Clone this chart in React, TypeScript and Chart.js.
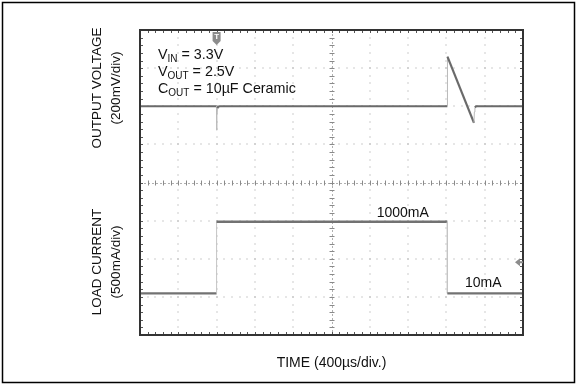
import React, { useEffect, useRef } from "react";
import { Chart, registerables } from "chart.js";

Chart.register(...registerables);

// ---- data (time in µs, voltage in V, current in mA) ----
const voltageTime = [0, 800, 801, 803, 808, 818, 832, 3210, 3211, 3488, 3492, 3498, 3510, 4000];
const voltageValues = [2.5, 2.5, 2.374, 2.46, 2.49, 2.498, 2.5, 2.5, 2.76, 2.413, 2.47, 2.494, 2.5, 2.5];

const currentTime = [0, 800, 800, 3210, 3210, 4000];
const currentValues = [10, 10, 1000, 1000, 10, 10];

const timeDivs = 10;
const timePerDiv = 400;
const vertDivs = 8;

const triggerTime = 800;
const channelMarker = 440; // mA

const annotationLines = [
  ["V", "IN", " = 3.3V"],
  ["V", "OUT", " = 2.5V"],
  ["C", "OUT", " = 10µF Ceramic"],
];
const levelLabels = ["1000mA", "10mA"];
const yLabelsTop = ["OUTPUT VOLTAGE", "(200mV/div)"];
const yLabelsBottom = ["LOAD CURRENT", "(500mA/div)"];
const xLabel = "TIME (400µs/div.)";

const FONT = "'Liberation Sans', Arial, sans-serif";

const scopePlugin = {
  id: "scope",
  beforeDatasetsDraw(chart: any) {
    const { ctx, chartArea: a, scales } = chart;
    const xs = scales.x;
    const W = a.right - a.left;
    const H = a.bottom - a.top;
    const dx = W / timeDivs;
    const dy = H / vertDivs;
    ctx.save();
    // dotted grid
    ctx.fillStyle = "#9a9a9a";
    for (let i = 1; i < timeDivs; i++) {
      const px = xs.getPixelForValue(i * timePerDiv);
      if (i === timeDivs / 2) continue;
      for (let k = 1; k < vertDivs * 5; k++) {
        const py = a.top + (k * dy) / 5;
        ctx.fillRect(Math.round(px) - 0.5, Math.round(py) - 0.5, 1, 1);
      }
    }
    for (let j = 1; j < vertDivs; j++) {
      const py = a.top + j * dy;
      if (j === vertDivs / 2) continue;
      for (let k = 1; k < timeDivs * 5; k++) {
        const px = a.left + (k * dx) / 5;
        ctx.fillRect(Math.round(px) - 0.5, Math.round(py) - 0.5, 1, 1);
      }
    }
    // center lines with ticks
    const cx = xs.getPixelForValue((timeDivs / 2) * timePerDiv);
    const cy = a.top + (vertDivs / 2) * dy;
    ctx.strokeStyle = "#b0b0b0";
    ctx.lineWidth = 1;
    ctx.setLineDash([2, 2]);
    ctx.beginPath();
    ctx.moveTo(Math.round(cx) + 0.5, a.top);
    ctx.lineTo(Math.round(cx) + 0.5, a.bottom);
    ctx.moveTo(a.left, Math.round(cy) + 0.5);
    ctx.lineTo(a.right, Math.round(cy) + 0.5);
    ctx.stroke();
    ctx.setLineDash([]);
    ctx.strokeStyle = "#8a8a8a";
    ctx.beginPath();
    for (let k = 1; k < vertDivs * 5; k++) {
      const py = Math.round(a.top + (k * dy) / 5) + 0.5;
      ctx.moveTo(cx - 2, py);
      ctx.lineTo(cx + 3, py);
    }
    for (let k = 1; k < timeDivs * 5; k++) {
      const px = Math.round(a.left + (k * dx) / 5) + 0.5;
      ctx.moveTo(px, cy - 2);
      ctx.lineTo(px, cy + 3);
    }
    ctx.stroke();
    // border ticks
    ctx.strokeStyle = "#555";
    ctx.beginPath();
    for (let k = 1; k < timeDivs * 5; k++) {
      const px = Math.round(a.left + (k * dx) / 5) + 0.5;
      ctx.moveTo(px, a.top);
      ctx.lineTo(px, a.top + 3);
      ctx.moveTo(px, a.bottom);
      ctx.lineTo(px, a.bottom - 3);
    }
    for (let k = 1; k < vertDivs * 5; k++) {
      const py = Math.round(a.top + (k * dy) / 5) + 0.5;
      ctx.moveTo(a.left, py);
      ctx.lineTo(a.left + 3, py);
      ctx.moveTo(a.right, py);
      ctx.lineTo(a.right - 3, py);
    }
    ctx.stroke();
    ctx.restore();
  },
  afterDatasetsDraw(chart: any) {
    const { ctx, chartArea: a, scales } = chart;
    ctx.save();
    // frame
    ctx.strokeStyle = "#333";
    ctx.lineWidth = 2;
    ctx.strokeRect(a.left, a.top, a.right - a.left, a.bottom - a.top);
    // outer border
    ctx.strokeStyle = "#000";
    ctx.lineWidth = 1.5;
    ctx.strokeRect(2.5, 2.5, chart.width - 5, chart.height - 5);

    // trigger marker
    const tx = scales.x.getPixelForValue(triggerTime);
    ctx.fillStyle = "#8c8c8c";
    ctx.beginPath();
    ctx.moveTo(tx - 4, a.top + 2);
    ctx.lineTo(tx + 4, a.top + 2);
    ctx.lineTo(tx + 4, a.top + 11);
    ctx.lineTo(tx, a.top + 15);
    ctx.lineTo(tx - 4, a.top + 11);
    ctx.closePath();
    ctx.fill();
    ctx.fillStyle = "#fff";
    ctx.font = `bold 8px ${FONT}`;
    ctx.textAlign = "center";
    ctx.textBaseline = "middle";
    ctx.fillText("T", tx, a.top + 7);

    // channel marker (right)
    const my = scales.yI.getPixelForValue(channelMarker);
    ctx.fillStyle = "#8c8c8c";
    ctx.beginPath();
    ctx.moveTo(a.right - 8, my);
    ctx.lineTo(a.right - 3, my - 4);
    ctx.lineTo(a.right - 3, my + 4);
    ctx.closePath();
    ctx.fill();
    ctx.fillRect(a.right - 3, my - 1, 3, 2);

    // annotations
    ctx.fillStyle = "#111";
    ctx.textAlign = "left";
    ctx.textBaseline = "alphabetic";
    const ax = a.left + 18;
    annotationLines.forEach((parts, i) => {
      const by = a.top + 29.3 + i * 17;
      let x = ax;
      ctx.font = `14.3px ${FONT}`;
      ctx.fillText(parts[0], x, by);
      x += ctx.measureText(parts[0]).width;
      ctx.font = `10px ${FONT}`;
      ctx.fillText(parts[1], x, by + 3);
      x += ctx.measureText(parts[1]).width;
      ctx.font = `14.3px ${FONT}`;
      ctx.fillText(parts[2], x, by);
    });
    ctx.font = `14px ${FONT}`;
    ctx.fillText(levelLabels[0], 376.7, 217.3);
    ctx.fillText(levelLabels[1], 465, 287.3);

    // x label
    ctx.textAlign = "center";
    ctx.font = `14px ${FONT}`;
    ctx.fillText(xLabel, (a.left + a.right) / 2, 366.5);

    // rotated y labels
    const drawRot = (text: string, x: number, y: number) => {
      ctx.save();
      ctx.translate(x, y);
      ctx.rotate(-Math.PI / 2);
      ctx.textAlign = "center";
      ctx.textBaseline = "middle";
      ctx.fillText(text, 0, 0);
      ctx.restore();
    };
    ctx.font = `13.5px ${FONT}`;
    drawRot(yLabelsTop[0], 97, 88);
    drawRot(yLabelsTop[1], 116, 88);
    drawRot(yLabelsBottom[0], 97, 262);
    drawRot(yLabelsBottom[1], 116, 262);
    ctx.restore();
  },
};

const segStyle = (light: string, dark: string, lw: number) => ({
  borderColor: (c: any) => {
    const ddx = Math.abs(c.p1.x - c.p0.x);
    const ddy = Math.abs(c.p1.y - c.p0.y);
    return ddx < 1 && ddy > 3 ? light : dark;
  },
  borderWidth: (c: any) => {
    const ddx = Math.abs(c.p1.x - c.p0.x);
    const ddy = Math.abs(c.p1.y - c.p0.y);
    return ddx < 1 && ddy > 3 ? 1 : lw;
  },
});

export default function App() {
  const ref = useRef<HTMLCanvasElement | null>(null);
  useEffect(() => {
    document.body.style.margin = "0";
    const canvas = ref.current;
    if (!canvas) return;
    const chart = new Chart(canvas, {
      type: "line",
      data: {
        datasets: [
          {
            label: "Output voltage",
            data: voltageTime.map((t, i) => ({ x: t, y: voltageValues[i] })),
            yAxisID: "yV",
            borderColor: "#6a6a6a",
            borderWidth: 2.2,
            pointRadius: 0,
            tension: 0,
            segment: segStyle("#b8b8b8", "#6a6a6a", 2.2),
          },
          {
            label: "Load current",
            data: currentTime.map((t, i) => ({ x: t, y: currentValues[i] })),
            yAxisID: "yI",
            borderColor: "#727272",
            borderWidth: 2.4,
            pointRadius: 0,
            tension: 0,
            segment: segStyle("#c4c4c4", "#727272", 2.4),
          },
        ],
      },
      options: {
        animation: false,
        responsive: false,
        devicePixelRatio: 1,
        layout: { padding: { left: 140, top: 30, right: 54, bottom: 50 } },
        plugins: { legend: { display: false }, tooltip: { enabled: false } },
        scales: {
          x: { type: "linear", min: 0, max: timeDivs * timePerDiv, display: false },
          yV: { type: "linear", min: 1.3, max: 2.9, display: false },
          yI: { type: "linear", min: -566, max: 3651, display: false },
        },
      },
      plugins: [scopePlugin],
    } as any);
    return () => chart.destroy();
  }, []);
  return (
    <div style={{ width: 577, height: 385, background: "#fff" }}>
      <canvas ref={ref} width={577} height={385} />
    </div>
  );
}
